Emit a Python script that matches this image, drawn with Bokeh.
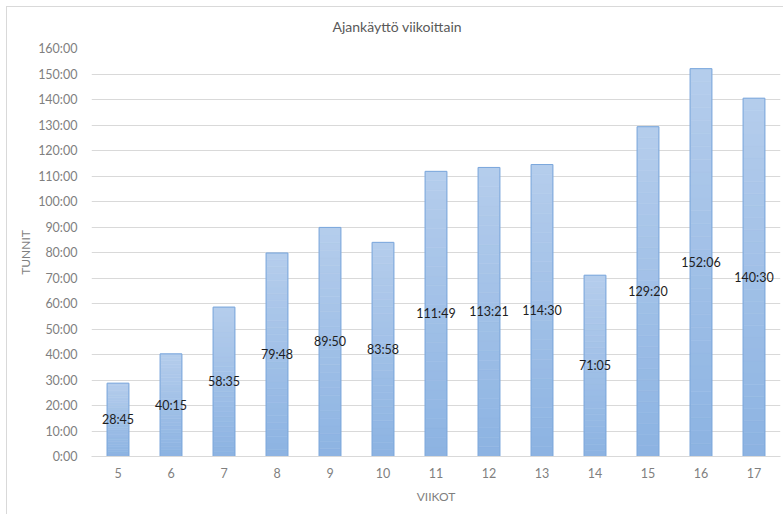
from bokeh.plotting import figure
from bokeh.models import ColumnDataSource, FactorRange, Range1d, FixedTicker, PrintfTickFormatter
from bokeh.core.properties import value
from bokeh.embed import file_html
from bokeh.resources import INLINE

# ---- data ----
weeks = ["5", "6", "7", "8", "9", "10", "11", "12", "13", "14", "15", "16", "17"]
hours = [28, 40, 58, 79, 89, 83, 111, 113, 114, 71, 129, 152, 140]
minutes = [45, 15, 35, 48, 50, 58, 49, 21, 30, 5, 20, 6, 30]
y_ticks = list(range(0, 161, 10))

title_text = "Ajankäyttö viikoittain"
x_title = "VIIKOT"
y_title = "TUNNIT"

values = [h + m / 60 for h, m in zip(hours, minutes)]
labels = [f"{h}:{m:02d}" for h, m in zip(hours, minutes)]

FONT = "Lato"
BAR_W = 0.41

p = figure(
    x_range=FactorRange(factors=weeks),
    y_range=Range1d(0, 160),
    width=783, height=514,
    output_backend="svg", toolbar_location=None,
    title=title_text,
    min_border_left=91, min_border_right=3,
    min_border_top=48, min_border_bottom=58,
)
p.border_fill_color = None
p.styles = {
    "background-color": "white",
    "background-image": "linear-gradient(#d9d9d9, #d9d9d9), linear-gradient(#d9d9d9, #d9d9d9)",
    "background-size": "1px 100%, 100% 1px",
    "background-position": "6px 6px, 6px 6px",
    "background-repeat": "no-repeat",
}

# gradient bars: each bar split into thin slices, light at top, darker at bottom
N = 30
top_rgb = (181, 205, 236)
bot_rgb = (140, 179, 226)
sx, sb, st, sc = [], [], [], []
for w, v in zip(weeks, values):
    for k in range(N):
        t = (k + 0.5) / N
        r = round(bot_rgb[0] + (top_rgb[0] - bot_rgb[0]) * t)
        g = round(bot_rgb[1] + (top_rgb[1] - bot_rgb[1]) * t)
        b = round(bot_rgb[2] + (top_rgb[2] - bot_rgb[2]) * t)
        sx.append(w)
        sb.append(v * k / N)
        st.append(v * (k + 1) / N)
        sc.append(f"#{r:02x}{g:02x}{b:02x}")
slices = ColumnDataSource(dict(x=sx, bottom=sb, top=st, color=sc))
p.vbar(x="x", bottom="bottom", top="top", width=BAR_W, source=slices,
       fill_color="color", line_color="color", line_width=0.6)

bars = ColumnDataSource(dict(x=weeks, top=values,
                             mid=[v / 2 for v in values], label=labels))
p.vbar(x="x", top="top", width=BAR_W, source=bars,
       fill_color=None, line_color="#7ba7dc", line_width=1)

p.text(x="x", y="mid", text="label", source=bars,
       text_align="center", text_baseline="middle",
       text_font=value(FONT), text_font_size="12.5px", text_color="#1e1e1e")

# axes
p.yaxis.ticker = FixedTicker(ticks=y_ticks)
p.yaxis.formatter = PrintfTickFormatter(format="%d:00")
p.yaxis.axis_line_color = None
p.yaxis.major_tick_line_color = None
p.yaxis.minor_tick_line_color = None
p.yaxis.major_label_standoff = 8
p.yaxis.axis_label = y_title
p.yaxis.axis_label_standoff = 2

p.xaxis.axis_line_color = "#d9d9d9"
p.xaxis.major_tick_line_color = None
p.xaxis.major_label_standoff = 5
p.xaxis.axis_label = x_title
p.xaxis.axis_label_standoff = 8

for ax in (p.xaxis, p.yaxis):
    ax.major_label_text_font = FONT
    ax.major_label_text_font_size = "12.5px"
    ax.major_label_text_color = "#7f7f7f"
    ax.axis_label_text_font = FONT
    ax.axis_label_text_font_size = "12px"
    ax.axis_label_text_color = "#7f7f7f"
    ax.axis_label_text_font_style = "normal"

p.xgrid.grid_line_color = None
p.ygrid.grid_line_color = "#d9d9d9"
p.ygrid.grid_line_width = 1
p.outline_line_color = None

p.title.align = "left"
p.title.offset = 241
p.title.standoff = 28
p.title.text_font = FONT
p.title.text_font_size = "14px"
p.title.text_font_style = "normal"
p.title.text_color = "#595959"

open("out.html", "w").write(file_html(p, INLINE))
